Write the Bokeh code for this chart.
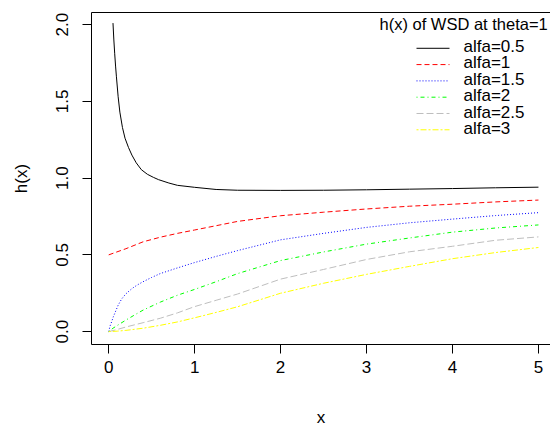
from bokeh.plotting import figure
from bokeh.models import (Range1d, FixedTicker, LinearAxis, NumeralTickFormatter, Label)
from bokeh.embed import file_html
from bokeh.resources import INLINE

# ---- data ----
x_a05 = [0.05, 0.06, 0.07, 0.08, 0.09, 0.11, 0.13, 0.16, 0.19, 0.23, 0.27, 0.32, 0.38, 0.45,
         0.52, 0.58, 0.7, 0.8, 1.0, 1.25, 1.5, 2.0, 2.5, 3.0, 3.5, 4.0, 4.5, 5.0]
h_a05 = [2.01, 1.90, 1.81, 1.73, 1.66, 1.53, 1.43, 1.33, 1.26, 1.20, 1.15, 1.10, 1.055, 1.025,
         1.005, 0.99, 0.968, 0.953, 0.94, 0.926, 0.921, 0.92, 0.921, 0.924, 0.928, 0.932, 0.937, 0.941]

x_a1 = [0.0, 0.2, 0.4, 0.6, 0.8, 1.0, 1.25, 1.5, 2.0, 2.5, 3.0, 3.5, 4.0, 4.5, 5.0]
h_a1 = [0.50, 0.54, 0.585, 0.615, 0.64, 0.662, 0.69, 0.718, 0.755, 0.778, 0.799, 0.817, 0.83, 0.845, 0.857]

x_a15 = [0.0, 0.015, 0.035, 0.055, 0.075, 0.11, 0.15, 0.2, 0.27, 0.33, 0.4, 0.5, 0.6, 0.8, 1.0,
         1.25, 1.5, 2.0, 2.5, 3.0, 3.5, 4.0, 4.5, 5.0]
h_a15 = [0.0, 0.035, 0.065, 0.098, 0.125, 0.172, 0.212, 0.246, 0.28, 0.303, 0.325, 0.353, 0.378,
         0.415, 0.45, 0.49, 0.528, 0.598, 0.64, 0.679, 0.709, 0.733, 0.756, 0.775]

x_a2 = [0.0, 0.05, 0.1, 0.2, 0.3, 0.4, 0.6, 0.8, 1.0, 1.25, 1.5, 2.0, 2.5, 3.0, 3.5, 4.0, 4.5, 5.0]
h_a2 = [0.0, 0.022, 0.04, 0.075, 0.108, 0.14, 0.192, 0.237, 0.275, 0.325, 0.378, 0.463, 0.519,
        0.57, 0.61, 0.648, 0.675, 0.695]

x_a25 = [0.0, 0.1, 0.2, 0.4, 0.6, 0.8, 1.0, 1.25, 1.5, 2.0, 2.5, 3.0, 3.5, 4.0, 4.5, 5.0]
h_a25 = [0.0, 0.014, 0.03, 0.058, 0.087, 0.122, 0.163, 0.204, 0.245, 0.342, 0.405, 0.47, 0.52,
         0.556, 0.595, 0.617]

x_a3 = [0.0, 0.1, 0.2, 0.4, 0.6, 0.8, 1.0, 1.25, 1.5, 2.0, 2.5, 3.0, 3.5, 4.0, 4.5, 5.0]
h_a3 = [0.0, 0.003, 0.008, 0.022, 0.041, 0.063, 0.09, 0.125, 0.162, 0.25, 0.315, 0.373, 0.425,
        0.475, 0.515, 0.548]

labels = ["alfa=0.5", "alfa=1", "alfa=1.5", "alfa=2", "alfa=2.5", "alfa=3"]
x_ticks = [0, 1, 2, 3, 4, 5]
y_ticks = [0.0, 0.5, 1.0, 1.5, 2.0]
legend_title = "h(x) of WSD at theta=1"

colors = ["#000000", "#FF0000", "#0000FF", "#00FF00", "#BEBEBE", "#FFFF00"]
dashes = ["solid", "5 3", "1 2", "1 3 4 3", "7 3", "2 2 6 2"]

FONT = "Liberation Sans"
FS = "17px"

W, H = 550, 429
LEFT, TOP, BOTTOM = 91, 12, 83
FW, FH = W - LEFT, H - TOP - BOTTOM

p = figure(width=W, height=H, output_backend="svg", toolbar_location=None,
           x_range=Range1d(-0.2, 5.14), y_range=Range1d(-0.084, 2.079),
           min_border_left=LEFT, min_border_right=0, min_border_top=TOP, min_border_bottom=BOTTOM,
           x_axis_label="x", y_axis_label="h(x)")
p.grid.visible = False
p.outline_line_color = None
p.background_fill_color = "white"
p.border_fill_color = "white"
# pixel-space ranges for the legend samples
p.extra_x_ranges = {"lx": Range1d(0, FW)}
p.extra_y_ranges = {"ly": Range1d(0, FH)}

for ax in (p.xaxis[0], p.yaxis[0]):
    ax.axis_line_color = "black"
    ax.major_tick_line_color = "black"
    ax.major_tick_out = 9
    ax.major_tick_in = 0
    ax.minor_tick_line_color = None
    ax.major_label_text_font = FONT
    ax.major_label_text_font_size = FS
    ax.major_label_text_color = "black"
    ax.axis_label_text_font = FONT
    ax.axis_label_text_font_size = FS
    ax.axis_label_text_font_style = "normal"
    ax.axis_label_text_color = "black"

p.xaxis[0].ticker = FixedTicker(ticks=x_ticks)
p.xaxis[0].formatter = NumeralTickFormatter(format="0")
p.xaxis[0].major_label_standoff = 7
p.xaxis[0].axis_label_standoff = 32

p.yaxis[0].ticker = FixedTicker(ticks=y_ticks)
p.yaxis[0].formatter = NumeralTickFormatter(format="0.0")
p.yaxis[0].major_label_orientation = "vertical"
p.yaxis[0].major_label_standoff = 14
p.yaxis[0].axis_label_standoff = 23

top = LinearAxis(ticker=FixedTicker(ticks=[]), major_label_text_font_size="0px",
                 major_tick_line_color=None, minor_tick_line_color=None,
                 axis_line_color="black")
p.add_layout(top, "above")

series = [(x_a05, h_a05), (x_a1, h_a1), (x_a15, h_a15), (x_a2, h_a2), (x_a25, h_a25), (x_a3, h_a3)]
for (xs, ys), c, d in zip(series, colors, dashes):
    p.line(xs, ys, line_color=c, line_width=1, line_dash=d)

# legend (manual, pixel positions relative to the frame)
LG_X0, LG_X1, LG_TXT = 416 - LEFT, 449 - LEFT, 463 - LEFT
ROW0, ROW_H = 48, 16.4
for i, (c, d, lab) in enumerate(zip(colors, dashes, labels)):
    yc = FH - (ROW0 + ROW_H * i - TOP)
    p.line([LG_X0, LG_X1], [yc, yc], line_color=c, line_width=1, line_dash=d,
           x_range_name="lx", y_range_name="ly")
    p.add_layout(Label(x=LG_TXT, y=yc, x_units="screen", y_units="screen", text=lab,
                       text_font=FONT, text_font_size=FS, text_baseline="middle",
                       text_align="left", text_color="black"))

p.add_layout(Label(x=379 - LEFT, y=FH - (25 - TOP), x_units="screen", y_units="screen",
                   text=legend_title, text_font=FONT, text_font_size="16.5px",
                   text_baseline="middle", text_align="left", text_color="black"))

open("out.html", "w").write(file_html(p, INLINE))
